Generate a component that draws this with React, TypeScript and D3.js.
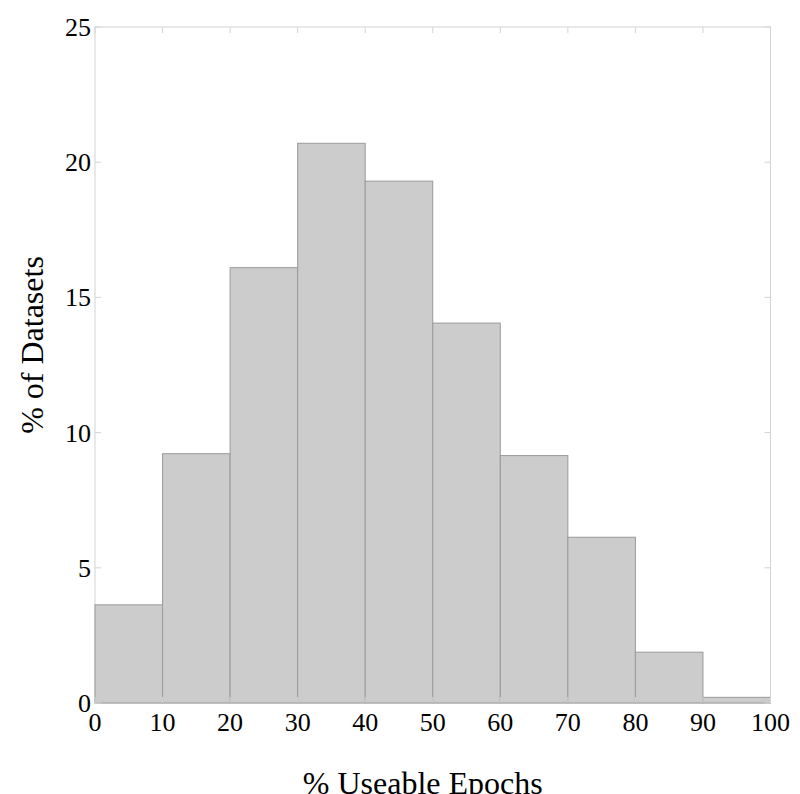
import React from "react";
import * as d3 from "d3";

const binEdges = [0, 10, 20, 30, 40, 50, 60, 70, 80, 90, 100];
const percentDatasets = [3.63, 9.22, 16.1, 20.7, 19.3, 14.05, 9.15, 6.13, 1.88, 0.21];
const xTicks = [0, 10, 20, 30, 40, 50, 60, 70, 80, 90, 100];
const yTicks = [0, 5, 10, 15, 20, 25];
const xTitle = "% Useable Epochs";
const yTitle = "% of Datasets";

const W = 800;
const H = 794;
const L = 95;
const R = 770.5;
const T = 27;
const B = 703;

export default function App() {
  const x = d3.scaleLinear().domain([0, 100]).range([L, R]);
  const y = d3.scaleLinear().domain([0, 25]).range([B, T]);
  const font = "Liberation Serif";
  const axisColor = "#d4d4d4";
  return (
    <svg width={W} height={H} style={{ position: "absolute", left: 0, top: 0, background: "#fff" }}>
      <rect x={L} y={T} width={R - L} height={B - T} fill="#fff" stroke={axisColor} strokeWidth={1} />
      {percentDatasets.map((v, i) => (
        <rect
          key={i}
          x={x(binEdges[i])}
          y={y(v)}
          width={x(binEdges[i + 1]) - x(binEdges[i])}
          height={y(0) - y(v)}
          fill="#cccccc"
          stroke="#9a9a9a"
          strokeWidth={1}
        />
      ))}
      {xTicks.map((t) => (
        <g key={"x" + t}>
          <line x1={x(t)} x2={x(t)} y1={T} y2={T + 6} stroke={axisColor} />
          <line x1={x(t)} x2={x(t)} y1={B} y2={B - 6} stroke={axisColor} />
          <text x={x(t)} y={731} textAnchor="middle" fontFamily={font} fontSize={26} fill="#000">
            {t}
          </text>
        </g>
      ))}
      {yTicks.map((t) => (
        <g key={"y" + t}>
          <line x1={L} x2={L + 6} y1={y(t)} y2={y(t)} stroke={axisColor} />
          <line x1={R} x2={R - 6} y1={y(t)} y2={y(t)} stroke={axisColor} />
          <text x={91} y={y(t) + 9} textAnchor="end" fontFamily={font} fontSize={26} fill="#000">
            {t}
          </text>
        </g>
      ))}
      <text x={(L + R) / 2 - 10} y={794} textAnchor="middle" fontFamily={font} fontSize={32} fill="#000">
        {xTitle}
      </text>
      <text
        transform={`translate(43, ${345}) rotate(-90)`}
        textAnchor="middle"
        fontFamily={font}
        fontSize={32}
        fill="#000"
      >
        {yTitle}
      </text>
    </svg>
  );
}
